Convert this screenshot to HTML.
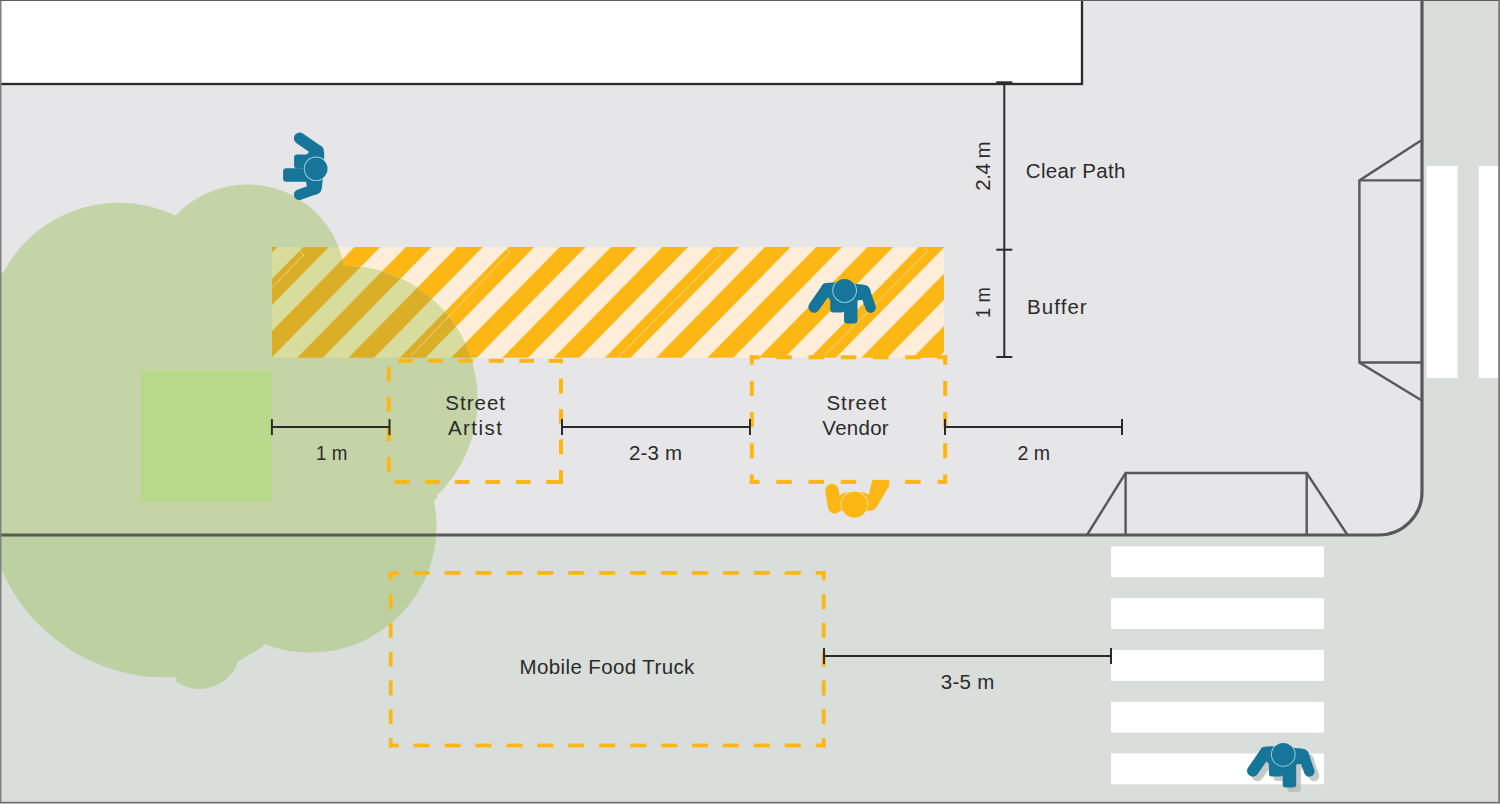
<!DOCTYPE html>
<html><head><meta charset="utf-8"><title>Street layout</title>
<style>html,body{margin:0;padding:0;background:#fff;} svg{display:block;} text{font-family:"Liberation Sans",sans-serif;}</style>
</head><body>
<svg width="1500" height="804" viewBox="0 0 1500 804">
<defs>
<mask id="mblue" maskUnits="userSpaceOnUse" x="-50" y="-50" width="100" height="100"><g fill="#fff" stroke="#fff" stroke-width="0"><path d="M-19,-7.6 Q-16,-8.3 -8,-8 L18,-6 Q25,-5 26,1 L27,8 L13,10 L-15,9 L-24,-2 Q-23,-7 -19,-7.6 Z"/>
 <line x1="-19" y1="0" x2="-30.5" y2="16.5" stroke-width="11.5" stroke-linecap="round"/>
 <line x1="20" y1="0" x2="26" y2="17" stroke-width="10.5" stroke-linecap="round"/>
 <rect x="-14.4" y="0" width="14.2" height="22" rx="3"/>
 <rect x="-0.6" y="0" width="13.5" height="33" rx="3"/></g></mask>
<mask id="myel" maskUnits="userSpaceOnUse" x="-50" y="-50" width="100" height="100"><g fill="#fff" stroke="#fff" stroke-width="0"><path d="M-18,-6 Q-13,-13 -5,-12.8 L5,-12.8 Q13,-13 18,-7 L19,0 L15,6 L-15,6 Q-19,0 -18,-6 Z"/>
 <line x1="-22.4" y1="-14" x2="-19.8" y2="2" stroke-width="13.5" stroke-linecap="round"/>
 <path d="M18,-24.8 L34.9,-24.8 L34.9,-19 L23,1 Q21,6 15,6 L12,-1 Z"/></g></mask>
 <clipPath id="stripeclip"><rect x="272" y="247" width="672" height="110.7"/></clipPath>
 <clipPath id="treeclip">
  <circle cx="118.9" cy="333.4" r="130.7"/>
  <circle cx="247.3" cy="282.2" r="97.8"/>
  <circle cx="344.1" cy="399.4" r="133.6"/>
  <circle cx="310.3" cy="526.3" r="126.3"/>
  <path d="M176.3,655 L176.3,681.6 A41,41 0 0 0 238.1,661.6 Z"/>
  <ellipse cx="156.5" cy="511.76" rx="162.62" ry="171.76" transform="rotate(-55.58 156.5 511.76)"/>
  <polygon points="172.3,217.3 343.9,265.4 437.6,497.7 261.6,647.2 238.1,661.6 176.3,678.1 2,569.7 -10,560 -10,280 2.8,272.1"/>
 </clipPath>
</defs>
<rect x="0" y="0" width="1500" height="804" fill="#d9dedb"/>
<path d="M0,0 H1422 V492 A43,43 0 0 1 1379,535 H0 Z" fill="#e6e6e8"/>
<rect x="-5" y="-5" width="1087" height="89" fill="#ffffff" stroke="#2b2b2b" stroke-width="2.3"/>
<!-- crosswalk -->
<g fill="#ffffff">
 <rect x="1111" y="546.4" width="213" height="30.8"/>
 <rect x="1111" y="598.2" width="213" height="30.8"/>
 <rect x="1111" y="650" width="213" height="30.8"/>
 <rect x="1111" y="701.8" width="213" height="30.8"/>
 <rect x="1111" y="753.5" width="213" height="30.8"/>
 <rect x="1426.6" y="166" width="31" height="212"/>
 <rect x="1478.8" y="166" width="31" height="212"/>
</g>
<!-- curb -->
<path d="M-5,535 H1379 A43,43 0 0 0 1422,492 V-5" fill="none" stroke="#58585a" stroke-width="3.2"/>
<!-- ramps -->
<g fill="none" stroke="#58585a" stroke-width="2.4" stroke-linejoin="miter">
 <path d="M1421,140.5 L1359.4,180.4 L1359.4,362.5 L1421,400"/>
 <path d="M1359.4,180.4 H1421 M1359.4,362.5 H1421"/>
 <path d="M1087,535 L1125.6,473 L1306.7,473 L1347.5,535"/>
 <path d="M1125.6,473 V535 M1306.7,473 V535"/>
</g>
<!-- stripes -->
<rect x="272" y="247" width="672" height="110.69999999999999" fill="#feeed9"/><path d="M154.31,242 L179.96,242 L61.43,362.7 L35.78,362.7Z M205.61,242 L231.26,242 L112.73,362.7 L87.08,362.7Z M256.91,242 L282.56,242 L164.03,362.7 L138.38,362.7Z M308.21,242 L333.86,242 L215.33,362.7 L189.68,362.7Z M359.51,242 L385.16,242 L266.63,362.7 L240.98,362.7Z M410.81,242 L436.46,242 L317.93,362.7 L292.28,362.7Z M462.11,242 L487.76,242 L369.23,362.7 L343.58,362.7Z M513.41,242 L539.06,242 L420.53,362.7 L394.88,362.7Z M564.71,242 L590.36,242 L471.83,362.7 L446.18,362.7Z M616.01,242 L641.66,242 L523.13,362.7 L497.48,362.7Z M667.31,242 L692.96,242 L574.43,362.7 L548.78,362.7Z M718.61,242 L744.26,242 L625.73,362.7 L600.08,362.7Z M769.91,242 L795.56,242 L677.03,362.7 L651.38,362.7Z M821.21,242 L846.86,242 L728.33,362.7 L702.68,362.7Z M872.51,242 L898.16,242 L779.63,362.7 L753.98,362.7Z M923.81,242 L949.46,242 L830.93,362.7 L805.28,362.7Z M975.11,242 L1000.76,242 L882.23,362.7 L856.58,362.7Z M1026.41,242 L1052.06,242 L933.53,362.7 L907.88,362.7Z M1077.71,242 L1103.36,242 L984.83,362.7 L959.18,362.7Z M1129.01,242 L1154.66,242 L1036.13,362.7 L1010.48,362.7Z M1180.31,242 L1205.96,242 L1087.43,362.7 L1061.78,362.7Z" fill="#fdb714" clip-path="url(#stripeclip)"/>
<!-- tree -->
<g clip-path="url(#treeclip)">
 <rect x="-10" y="0" width="700" height="535" fill="#c5d4a7"/>
 <rect x="-10" y="535" width="700" height="300" fill="#bdd0a2"/>
 <rect x="272" y="247" width="672" height="110.69999999999999" fill="#d8dd9d"/><path d="M154.31,242 L179.96,242 L61.43,362.7 L35.78,362.7Z M205.61,242 L231.26,242 L112.73,362.7 L87.08,362.7Z M256.91,242 L282.56,242 L164.03,362.7 L138.38,362.7Z M308.21,242 L333.86,242 L215.33,362.7 L189.68,362.7Z M359.51,242 L385.16,242 L266.63,362.7 L240.98,362.7Z M410.81,242 L436.46,242 L317.93,362.7 L292.28,362.7Z M462.11,242 L487.76,242 L369.23,362.7 L343.58,362.7Z M513.41,242 L539.06,242 L420.53,362.7 L394.88,362.7Z M564.71,242 L590.36,242 L471.83,362.7 L446.18,362.7Z M616.01,242 L641.66,242 L523.13,362.7 L497.48,362.7Z M667.31,242 L692.96,242 L574.43,362.7 L548.78,362.7Z M718.61,242 L744.26,242 L625.73,362.7 L600.08,362.7Z M769.91,242 L795.56,242 L677.03,362.7 L651.38,362.7Z M821.21,242 L846.86,242 L728.33,362.7 L702.68,362.7Z M872.51,242 L898.16,242 L779.63,362.7 L753.98,362.7Z M923.81,242 L949.46,242 L830.93,362.7 L805.28,362.7Z M975.11,242 L1000.76,242 L882.23,362.7 L856.58,362.7Z M1026.41,242 L1052.06,242 L933.53,362.7 L907.88,362.7Z M1077.71,242 L1103.36,242 L984.83,362.7 L959.18,362.7Z M1129.01,242 L1154.66,242 L1036.13,362.7 L1010.48,362.7Z M1180.31,242 L1205.96,242 L1087.43,362.7 L1061.78,362.7Z" fill="#dbae28" clip-path="url(#stripeclip)"/>
 <line x1="-5" y1="535" x2="700" y2="535" stroke="#555a55" stroke-width="3.2"/>
</g>
<rect x="141.1" y="370.5" width="131.2" height="131.3" fill="#b9d98a"/>
<g fill="none" stroke="#fff6e0" stroke-opacity="0.6" stroke-width="0.9">
 <path d="M716.8,249 L721.1,253.7 L617.5,357.7"/>
 <path d="M924.7,248.2 L927.7,251.2 L824.7,355.5"/>
 <path d="M506,248.5 L510,252 L411,356"/>
 <path d="M299.5,251 L303.7,255 L272.4,287"/>
</g>
<!-- dashed boxes -->
<rect x="398.30" y="358.80" width="14.60" height="4" fill="#fdb714"/>
<rect x="427.90" y="358.80" width="14.80" height="4" fill="#fdb714"/>
<rect x="458.30" y="358.80" width="14.80" height="4" fill="#fdb714"/>
<rect x="488.80" y="358.80" width="14.80" height="4" fill="#fdb714"/>
<rect x="519.20" y="358.80" width="14.80" height="4" fill="#fdb714"/>
<rect x="548.80" y="358.80" width="14.20" height="4" fill="#fdb714"/>
<rect x="394.80" y="480.00" width="14.80" height="4" fill="#fdb714"/>
<rect x="425.30" y="480.00" width="14.70" height="4" fill="#fdb714"/>
<rect x="454.80" y="480.00" width="14.80" height="4" fill="#fdb714"/>
<rect x="485.30" y="480.00" width="14.80" height="4" fill="#fdb714"/>
<rect x="515.80" y="480.00" width="14.80" height="4" fill="#fdb714"/>
<rect x="546.20" y="480.00" width="16.80" height="4" fill="#fdb714"/>
<rect x="559.00" y="358.80" width="4" height="4.70" fill="#fdb714"/>
<rect x="559.00" y="378.70" width="4" height="14.80" fill="#fdb714"/>
<rect x="559.00" y="409.20" width="4" height="14.70" fill="#fdb714"/>
<rect x="559.00" y="439.20" width="4" height="15.20" fill="#fdb714"/>
<rect x="559.00" y="470.10" width="4" height="13.90" fill="#fdb714"/>
<rect x="386.70" y="366.50" width="4" height="14.80" fill="#fdb714"/>
<rect x="386.70" y="397.00" width="4" height="14.80" fill="#fdb714"/>
<rect x="386.70" y="426.60" width="4" height="14.80" fill="#fdb714"/>
<rect x="386.70" y="457.00" width="4" height="14.80" fill="#fdb714"/>
<rect x="749.80" y="355.30" width="9.74" height="4" fill="#fdb714"/>
<rect x="776.30" y="355.30" width="15.47" height="4" fill="#fdb714"/>
<rect x="808.53" y="355.30" width="15.47" height="4" fill="#fdb714"/>
<rect x="840.76" y="355.30" width="15.47" height="4" fill="#fdb714"/>
<rect x="873.00" y="355.30" width="15.47" height="4" fill="#fdb714"/>
<rect x="905.23" y="355.30" width="15.47" height="4" fill="#fdb714"/>
<rect x="937.46" y="355.30" width="9.74" height="4" fill="#fdb714"/>
<rect x="943.20" y="355.30" width="4" height="9.48" fill="#fdb714"/>
<rect x="943.20" y="380.97" width="4" height="14.95" fill="#fdb714"/>
<rect x="943.20" y="412.12" width="4" height="14.95" fill="#fdb714"/>
<rect x="943.20" y="443.27" width="4" height="14.95" fill="#fdb714"/>
<rect x="943.20" y="474.42" width="4" height="9.48" fill="#fdb714"/>
<rect x="749.80" y="479.90" width="9.74" height="4" fill="#fdb714"/>
<rect x="776.30" y="479.90" width="15.47" height="4" fill="#fdb714"/>
<rect x="808.53" y="479.90" width="15.47" height="4" fill="#fdb714"/>
<rect x="840.76" y="479.90" width="15.47" height="4" fill="#fdb714"/>
<rect x="873.00" y="479.90" width="15.47" height="4" fill="#fdb714"/>
<rect x="905.23" y="479.90" width="15.47" height="4" fill="#fdb714"/>
<rect x="937.46" y="479.90" width="9.74" height="4" fill="#fdb714"/>
<rect x="749.80" y="355.30" width="4" height="9.48" fill="#fdb714"/>
<rect x="749.80" y="380.97" width="4" height="14.95" fill="#fdb714"/>
<rect x="749.80" y="412.12" width="4" height="14.95" fill="#fdb714"/>
<rect x="749.80" y="443.27" width="4" height="14.95" fill="#fdb714"/>
<rect x="749.80" y="474.42" width="4" height="9.48" fill="#fdb714"/>
<rect x="388.80" y="571.00" width="9.94" height="3.8" fill="#fdb714"/>
<rect x="413.59" y="571.00" width="16.08" height="3.8" fill="#fdb714"/>
<rect x="444.52" y="571.00" width="16.08" height="3.8" fill="#fdb714"/>
<rect x="475.44" y="571.00" width="16.08" height="3.8" fill="#fdb714"/>
<rect x="506.37" y="571.00" width="16.08" height="3.8" fill="#fdb714"/>
<rect x="537.30" y="571.00" width="16.08" height="3.8" fill="#fdb714"/>
<rect x="568.23" y="571.00" width="16.08" height="3.8" fill="#fdb714"/>
<rect x="599.16" y="571.00" width="16.08" height="3.8" fill="#fdb714"/>
<rect x="630.09" y="571.00" width="16.08" height="3.8" fill="#fdb714"/>
<rect x="661.02" y="571.00" width="16.08" height="3.8" fill="#fdb714"/>
<rect x="691.94" y="571.00" width="16.08" height="3.8" fill="#fdb714"/>
<rect x="722.87" y="571.00" width="16.08" height="3.8" fill="#fdb714"/>
<rect x="753.80" y="571.00" width="16.08" height="3.8" fill="#fdb714"/>
<rect x="784.73" y="571.00" width="16.08" height="3.8" fill="#fdb714"/>
<rect x="815.66" y="571.00" width="9.94" height="3.8" fill="#fdb714"/>
<rect x="821.80" y="571.00" width="3.8" height="9.38" fill="#fdb714"/>
<rect x="821.80" y="594.19" width="3.8" height="14.96" fill="#fdb714"/>
<rect x="821.80" y="622.95" width="3.8" height="14.96" fill="#fdb714"/>
<rect x="821.80" y="651.72" width="3.8" height="14.96" fill="#fdb714"/>
<rect x="821.80" y="680.49" width="3.8" height="14.96" fill="#fdb714"/>
<rect x="821.80" y="709.25" width="3.8" height="14.96" fill="#fdb714"/>
<rect x="821.80" y="738.02" width="3.8" height="9.38" fill="#fdb714"/>
<rect x="388.80" y="743.60" width="9.94" height="3.8" fill="#fdb714"/>
<rect x="413.59" y="743.60" width="16.08" height="3.8" fill="#fdb714"/>
<rect x="444.52" y="743.60" width="16.08" height="3.8" fill="#fdb714"/>
<rect x="475.44" y="743.60" width="16.08" height="3.8" fill="#fdb714"/>
<rect x="506.37" y="743.60" width="16.08" height="3.8" fill="#fdb714"/>
<rect x="537.30" y="743.60" width="16.08" height="3.8" fill="#fdb714"/>
<rect x="568.23" y="743.60" width="16.08" height="3.8" fill="#fdb714"/>
<rect x="599.16" y="743.60" width="16.08" height="3.8" fill="#fdb714"/>
<rect x="630.09" y="743.60" width="16.08" height="3.8" fill="#fdb714"/>
<rect x="661.02" y="743.60" width="16.08" height="3.8" fill="#fdb714"/>
<rect x="691.94" y="743.60" width="16.08" height="3.8" fill="#fdb714"/>
<rect x="722.87" y="743.60" width="16.08" height="3.8" fill="#fdb714"/>
<rect x="753.80" y="743.60" width="16.08" height="3.8" fill="#fdb714"/>
<rect x="784.73" y="743.60" width="16.08" height="3.8" fill="#fdb714"/>
<rect x="815.66" y="743.60" width="9.94" height="3.8" fill="#fdb714"/>
<rect x="388.80" y="571.00" width="3.8" height="9.38" fill="#fdb714"/>
<rect x="388.80" y="594.19" width="3.8" height="14.96" fill="#fdb714"/>
<rect x="388.80" y="622.95" width="3.8" height="14.96" fill="#fdb714"/>
<rect x="388.80" y="651.72" width="3.8" height="14.96" fill="#fdb714"/>
<rect x="388.80" y="680.49" width="3.8" height="14.96" fill="#fdb714"/>
<rect x="388.80" y="709.25" width="3.8" height="14.96" fill="#fdb714"/>
<rect x="388.80" y="738.02" width="3.8" height="9.38" fill="#fdb714"/>
<!-- dims -->
<line x1="271.9" y1="427.1" x2="389.5" y2="427.1" stroke="#2b2b2b" stroke-width="2"/><line x1="271.9" y1="419.1" x2="271.9" y2="435.1" stroke="#2b2b2b" stroke-width="2"/><line x1="389.5" y1="419.1" x2="389.5" y2="435.1" stroke="#2b2b2b" stroke-width="2"/>
<line x1="562" y1="427.1" x2="750" y2="427.1" stroke="#2b2b2b" stroke-width="2"/><line x1="562" y1="419.1" x2="562" y2="435.1" stroke="#2b2b2b" stroke-width="2"/><line x1="750" y1="419.1" x2="750" y2="435.1" stroke="#2b2b2b" stroke-width="2"/>
<line x1="945" y1="427.1" x2="1122" y2="427.1" stroke="#2b2b2b" stroke-width="2"/><line x1="945" y1="419.1" x2="945" y2="435.1" stroke="#2b2b2b" stroke-width="2"/><line x1="1122" y1="419.1" x2="1122" y2="435.1" stroke="#2b2b2b" stroke-width="2"/>
<line x1="824" y1="656" x2="1111" y2="656" stroke="#2b2b2b" stroke-width="2"/><line x1="824" y1="648" x2="824" y2="664" stroke="#2b2b2b" stroke-width="2"/><line x1="1111" y1="648" x2="1111" y2="664" stroke="#2b2b2b" stroke-width="2"/>
<line x1="1004.3" y1="82.3" x2="1004.3" y2="357" stroke="#2b2b2b" stroke-width="2"/>
<line x1="996.3" y1="82.3" x2="1012.3" y2="82.3" stroke="#2b2b2b" stroke-width="2"/>
<line x1="996.3" y1="249.7" x2="1012.3" y2="249.7" stroke="#2b2b2b" stroke-width="2"/>
<line x1="996.3" y1="357" x2="1012.3" y2="357" stroke="#2b2b2b" stroke-width="2"/>
<g font-family="Liberation Sans" font-size="20.5" fill="#2b2b2b">
 <text x="1025.8" y="178" textLength="99.6" lengthAdjust="spacing" >Clear Path</text>
 <text x="1027" y="314" textLength="59.7" lengthAdjust="spacing" >Buffer</text>
 <text x="445.3" y="410" textLength="59.7" lengthAdjust="spacing" >Street</text>
 <text x="447.9" y="435" textLength="54.1" lengthAdjust="spacing" >Artist</text>
 <text x="826.4" y="410" textLength="59.7" lengthAdjust="spacing" >Street</text>
 <text x="822.3" y="434.6" textLength="66.4" lengthAdjust="spacing" >Vendor</text>
 <text x="316" y="460.2" textLength="31.3" lengthAdjust="spacingAndGlyphs" >1 m</text>
 <text x="628.9" y="460.2" textLength="53.1" lengthAdjust="spacing" >2-3 m</text>
 <text x="1017.5" y="460.2" textLength="32.7" lengthAdjust="spacingAndGlyphs" >2 m</text>
 <text x="940.7" y="688.5" textLength="53.7" lengthAdjust="spacing" >3-5 m</text>
 <text x="519.5" y="674" textLength="174.8" lengthAdjust="spacing" >Mobile Food Truck</text>
 <text transform="translate(990.4,190.7) rotate(-90)" textLength="49.3" lengthAdjust="spacing">2.4 m</text>
 <text transform="translate(990.4,317.9) rotate(-90)" textLength="30.6" lengthAdjust="spacingAndGlyphs">1 m</text>
</g>
<!-- people -->
<g transform="translate(316.1,168.8) rotate(90)">
<g fill="#167699" stroke="#167699" stroke-width="0"><path d="M-19,-7.6 Q-16,-8.3 -8,-8 L18,-6 Q25,-5 26,1 L27,8 L13,10 L-15,9 L-24,-2 Q-23,-7 -19,-7.6 Z"/>
 <line x1="-19" y1="0" x2="-30.5" y2="16.5" stroke-width="11.5" stroke-linecap="round"/>
 <line x1="20" y1="0" x2="26" y2="17" stroke-width="10.5" stroke-linecap="round"/>
 <rect x="-14.4" y="0" width="14.2" height="22" rx="3"/>
 <rect x="-0.6" y="0" width="13.5" height="33" rx="3"/></g>
<circle cx="0" cy="0" r="12.3" fill="#a9d2e2" mask="url(#mblue)"/>
<circle cx="0" cy="0" r="11.4" fill="#167699"/></g>
<g transform="translate(844.6,290.5)">
<g fill="#167699" stroke="#167699" stroke-width="0"><path d="M-19,-7.6 Q-16,-8.3 -8,-8 L18,-6 Q25,-5 26,1 L27,8 L13,10 L-15,9 L-24,-2 Q-23,-7 -19,-7.6 Z"/>
 <line x1="-19" y1="0" x2="-30.5" y2="16.5" stroke-width="11.5" stroke-linecap="round"/>
 <line x1="20" y1="0" x2="26" y2="17" stroke-width="10.5" stroke-linecap="round"/>
 <rect x="-14.4" y="0" width="14.2" height="22" rx="3"/>
 <rect x="-0.6" y="0" width="13.5" height="33" rx="3"/></g>
<circle cx="0" cy="0" r="12.3" fill="#a9d2e2" mask="url(#mblue)"/>
<circle cx="0" cy="0" r="11.4" fill="#167699"/></g>
<g transform="translate(854.4,504.7)">
<g fill="#fdb714" stroke="#fdb714" stroke-width="0"><path d="M-18,-6 Q-13,-13 -5,-12.8 L5,-12.8 Q13,-13 18,-7 L19,0 L15,6 L-15,6 Q-19,0 -18,-6 Z"/>
 <line x1="-22.4" y1="-14" x2="-19.8" y2="2" stroke-width="13.5" stroke-linecap="round"/>
 <path d="M18,-24.8 L34.9,-24.8 L34.9,-19 L23,1 Q21,6 15,6 L12,-1 Z"/></g>
<circle cx="0" cy="0" r="13.9" fill="#fde2a6" mask="url(#myel)"/>
<circle cx="0" cy="0" r="13.0" fill="#fdb714"/></g>
<g transform="translate(1288,759)">
<g fill="#b4b8b6" stroke="#b4b8b6" stroke-width="0" opacity="0.75"><path d="M-19,-7.6 Q-16,-8.3 -8,-8 L18,-6 Q25,-5 26,1 L27,8 L13,10 L-15,9 L-24,-2 Q-23,-7 -19,-7.6 Z"/>
 <line x1="-19" y1="0" x2="-30.5" y2="16.5" stroke-width="11.5" stroke-linecap="round"/>
 <line x1="20" y1="0" x2="26" y2="17" stroke-width="10.5" stroke-linecap="round"/>
 <rect x="-14.4" y="0" width="14.2" height="22" rx="3"/>
 <rect x="-0.6" y="0" width="13.5" height="33" rx="3"/><circle cx="0" cy="0" r="11.8"/></g></g>
<g transform="translate(1283.3,754.4)">
<g fill="#167699" stroke="#167699" stroke-width="0"><path d="M-19,-7.6 Q-16,-8.3 -8,-8 L18,-6 Q25,-5 26,1 L27,8 L13,10 L-15,9 L-24,-2 Q-23,-7 -19,-7.6 Z"/>
 <line x1="-19" y1="0" x2="-30.5" y2="16.5" stroke-width="11.5" stroke-linecap="round"/>
 <line x1="20" y1="0" x2="26" y2="17" stroke-width="10.5" stroke-linecap="round"/>
 <rect x="-14.4" y="0" width="14.2" height="22" rx="3"/>
 <rect x="-0.6" y="0" width="13.5" height="33" rx="3"/></g>
<circle cx="0" cy="0" r="12.3" fill="#a9d2e2" mask="url(#mblue)"/>
<circle cx="0" cy="0" r="11.4" fill="#167699"/></g>
<!-- frame -->
<rect x="0" y="0" width="1.5" height="804" fill="#808080"/>
<rect x="0" y="0" width="1500" height="1" fill="#5c5f5c"/>
<rect x="1498.2" y="0" width="1.8" height="804" fill="#7a7a7a"/>
<rect x="0" y="801.8" width="1500" height="1.2" fill="#6f726f"/>
<rect x="0" y="803" width="1500" height="1" fill="#b5b5b5"/>
</svg>
</body></html>
